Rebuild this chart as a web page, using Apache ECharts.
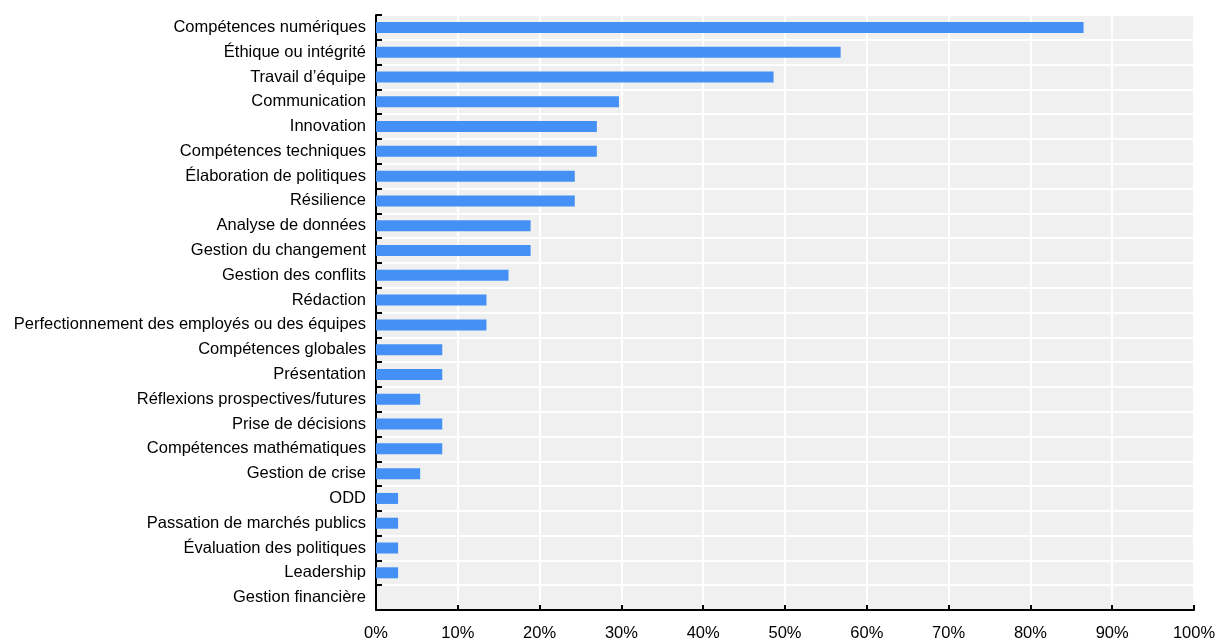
<!DOCTYPE html>
<html>
<head>
    <meta charset="UTF-8">
    <title>Compétences</title>
    <script src="https://cdn.jsdelivr.net/npm/echarts@6/dist/echarts.min.js"></script>
    <style type="text/css">
        html, body { margin: 0; padding: 0; background: #fff; }
        #main { width: 1219px; height: 642px; }
    </style>
</head>
<body>
<div id="main"></div>
<script>
    // catégories, de haut en bas
    var categories = [
        'Compétences numériques', 'Éthique ou intégrité', 'Travail d’équipe', 'Communication',
        'Innovation', 'Compétences techniques', 'Élaboration de politiques', 'Résilience',
        'Analyse de données', 'Gestion du changement', 'Gestion des conflits', 'Rédaction',
        'Perfectionnement des employés ou des équipes', 'Compétences globales', 'Présentation',
        'Réflexions prospectives/futures', 'Prise de décisions', 'Compétences mathématiques',
        'Gestion de crise', 'ODD', 'Passation de marchés publics', 'Évaluation des politiques',
        'Leadership', 'Gestion financière'
    ];
    // part (%)
    var values = [
        86.5, 56.8, 48.6, 29.7,
        27.0, 27.0, 24.3, 24.3,
        18.9, 18.9, 16.2, 13.5,
        13.5, 8.1, 8.1,
        5.4, 8.1, 8.1,
        5.4, 2.7, 2.7, 2.7,
        2.7, 0
    ];
    var xTicks = [0, 10, 20, 30, 40, 50, 60, 70, 80, 90, 100];

    var font = '"Liberation Sans", Arial, sans-serif';

    var chart = echarts.init(document.getElementById('main'));
    var option = {
        animation: false,
        grid: {
            left: 376, right: 25, top: 15, bottom: 32,
            outerBoundsMode: 'none',
            containLabel: false,
            show: true, backgroundColor: '#f0f0f0', borderWidth: 0
        },
        xAxis: {
            type: 'value',
            min: xTicks[0],
            max: xTicks[xTicks.length - 1],
            interval: 10,
            axisLine: { show: true, lineStyle: { color: '#000', width: 2 } },
            axisTick: { show: true, inside: true, length: 5, lineStyle: { color: '#000', width: 2 } },
            axisLabel: {
                formatter: '{value}%', color: '#000', fontSize: 16.5, fontFamily: font, margin: 15
            },
            splitLine: { show: true, lineStyle: { color: '#fff', width: 2 } }
        },
        yAxis: {
            type: 'category',
            data: categories,
            inverse: true,
            boundaryGap: true,
            axisLine: { show: true, lineStyle: { color: '#000', width: 2 } },
            axisTick: { show: true, inside: true, length: 6, interval: 0, lineStyle: { color: '#000', width: 2 } },
            axisLabel: { interval: 0, color: '#000', fontSize: 16.5, fontFamily: font, margin: 10 },
            splitLine: { show: true, interval: 0, lineStyle: { color: '#fff', width: 2 } }
        },
        series: [{
            type: 'bar',
            data: values,
            barWidth: 11,
            itemStyle: { color: '#4590f4' }
        }]
    };
    chart.setOption(option);
</script>
</body>
</html>
